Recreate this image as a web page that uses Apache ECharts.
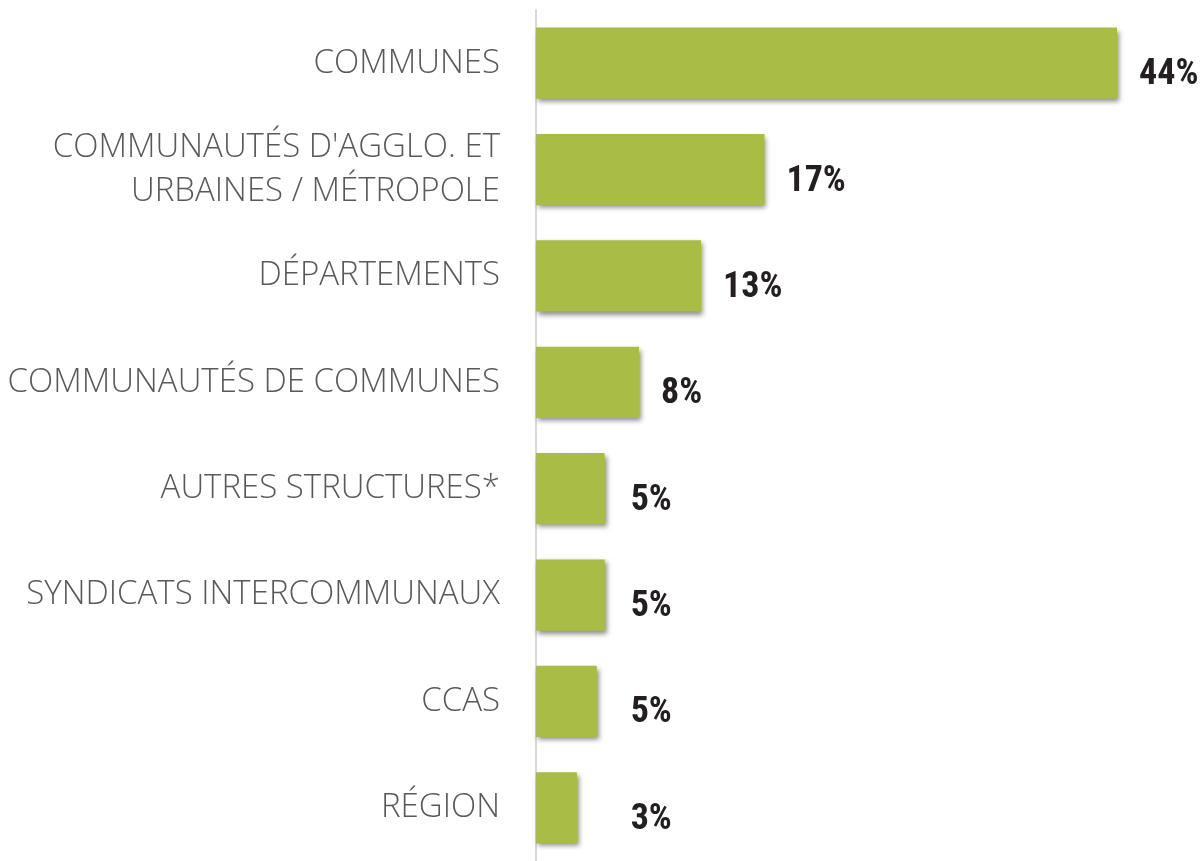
<!DOCTYPE html>
<html>
<head>
<meta charset="utf-8">
<script src="https://cdn.jsdelivr.net/npm/echarts@6/dist/echarts.min.js"></script>
<style>
  html, body { margin: 0; padding: 0; background: #fff; }
  #chart { width: 1201px; height: 861px; }
</style>
</head>
<body>
<div id="chart"></div>
<script>
// catégories, du haut vers le bas
const categories = [
  'COMMUNES',
  "COMMUNAUTÉS D'AGGLO. ET\nURBAINES / MÉTROPOLE",
  'DÉPARTEMENTS',
  'COMMUNAUTÉS DE COMMUNES',
  'AUTRES STRUCTURES*',
  'SYNDICATS INTERCOMMUNAUX',
  'CCAS',
  'RÉGION'
];
// longueurs des barres (%)
const values = [44, 17.3, 12.5, 7.8, 5.2, 5.2, 4.6, 3.1];
// étiquettes affichées
const labels = ['44%', '17%', '13%', '8%', '5%', '5%', '5%', '3%'];

const myChart = echarts.init(document.getElementById('chart'));

// les petites étiquettes restent alignées sur une même colonne
const labelMin = 5.5;

const option = {
  animation: false,
  grid: { left: 536, right: 84, top: 10, height: 860 },
  xAxis: {
    type: 'value', min: 0, max: 44,
    show: false
  },
  yAxis: {
    type: 'category',
    inverse: true,
    data: categories,
    axisLine: { show: true, lineStyle: { color: '#d9d9d9', width: 2 } },
    axisTick: { show: false },
    axisLabel: {
      margin: 36,
      color: '#58595b',
      fontFamily: 'Open Sans',
      fontWeight: 300,
      fontSize: 33,
      lineHeight: 44,
      padding: [0, 0, 6, 0]
    }
  },
  series: [
    {
      type: 'bar',
      data: values,
      barCategoryGap: '33%',
      itemStyle: {
        color: '#a9bd46',
        shadowColor: 'rgba(0,0,0,0.45)',
        shadowBlur: 5,
        shadowOffsetX: 2,
        shadowOffsetY: 3
      },
      silent: true
    },
    {
      type: 'scatter',
      symbolSize: 0,
      silent: true,
      itemStyle: { opacity: 1 },
      data: values.map((v, i) => ({ value: [Math.max(v, labelMin), i], label: { formatter: labels[i] } })),
      label: {
        show: true,
        position: 'right',
        distance: 0,
        offset: [22, 12],
        color: '#231f20',
        fontFamily: '"Liberation Sans Narrow", "Roboto Condensed", Roboto, sans-serif',
        fontWeight: 'bold',
        fontSize: 36
      }
    }
  ]
};

option && myChart.setOption(option);
</script>
</body>
</html>
